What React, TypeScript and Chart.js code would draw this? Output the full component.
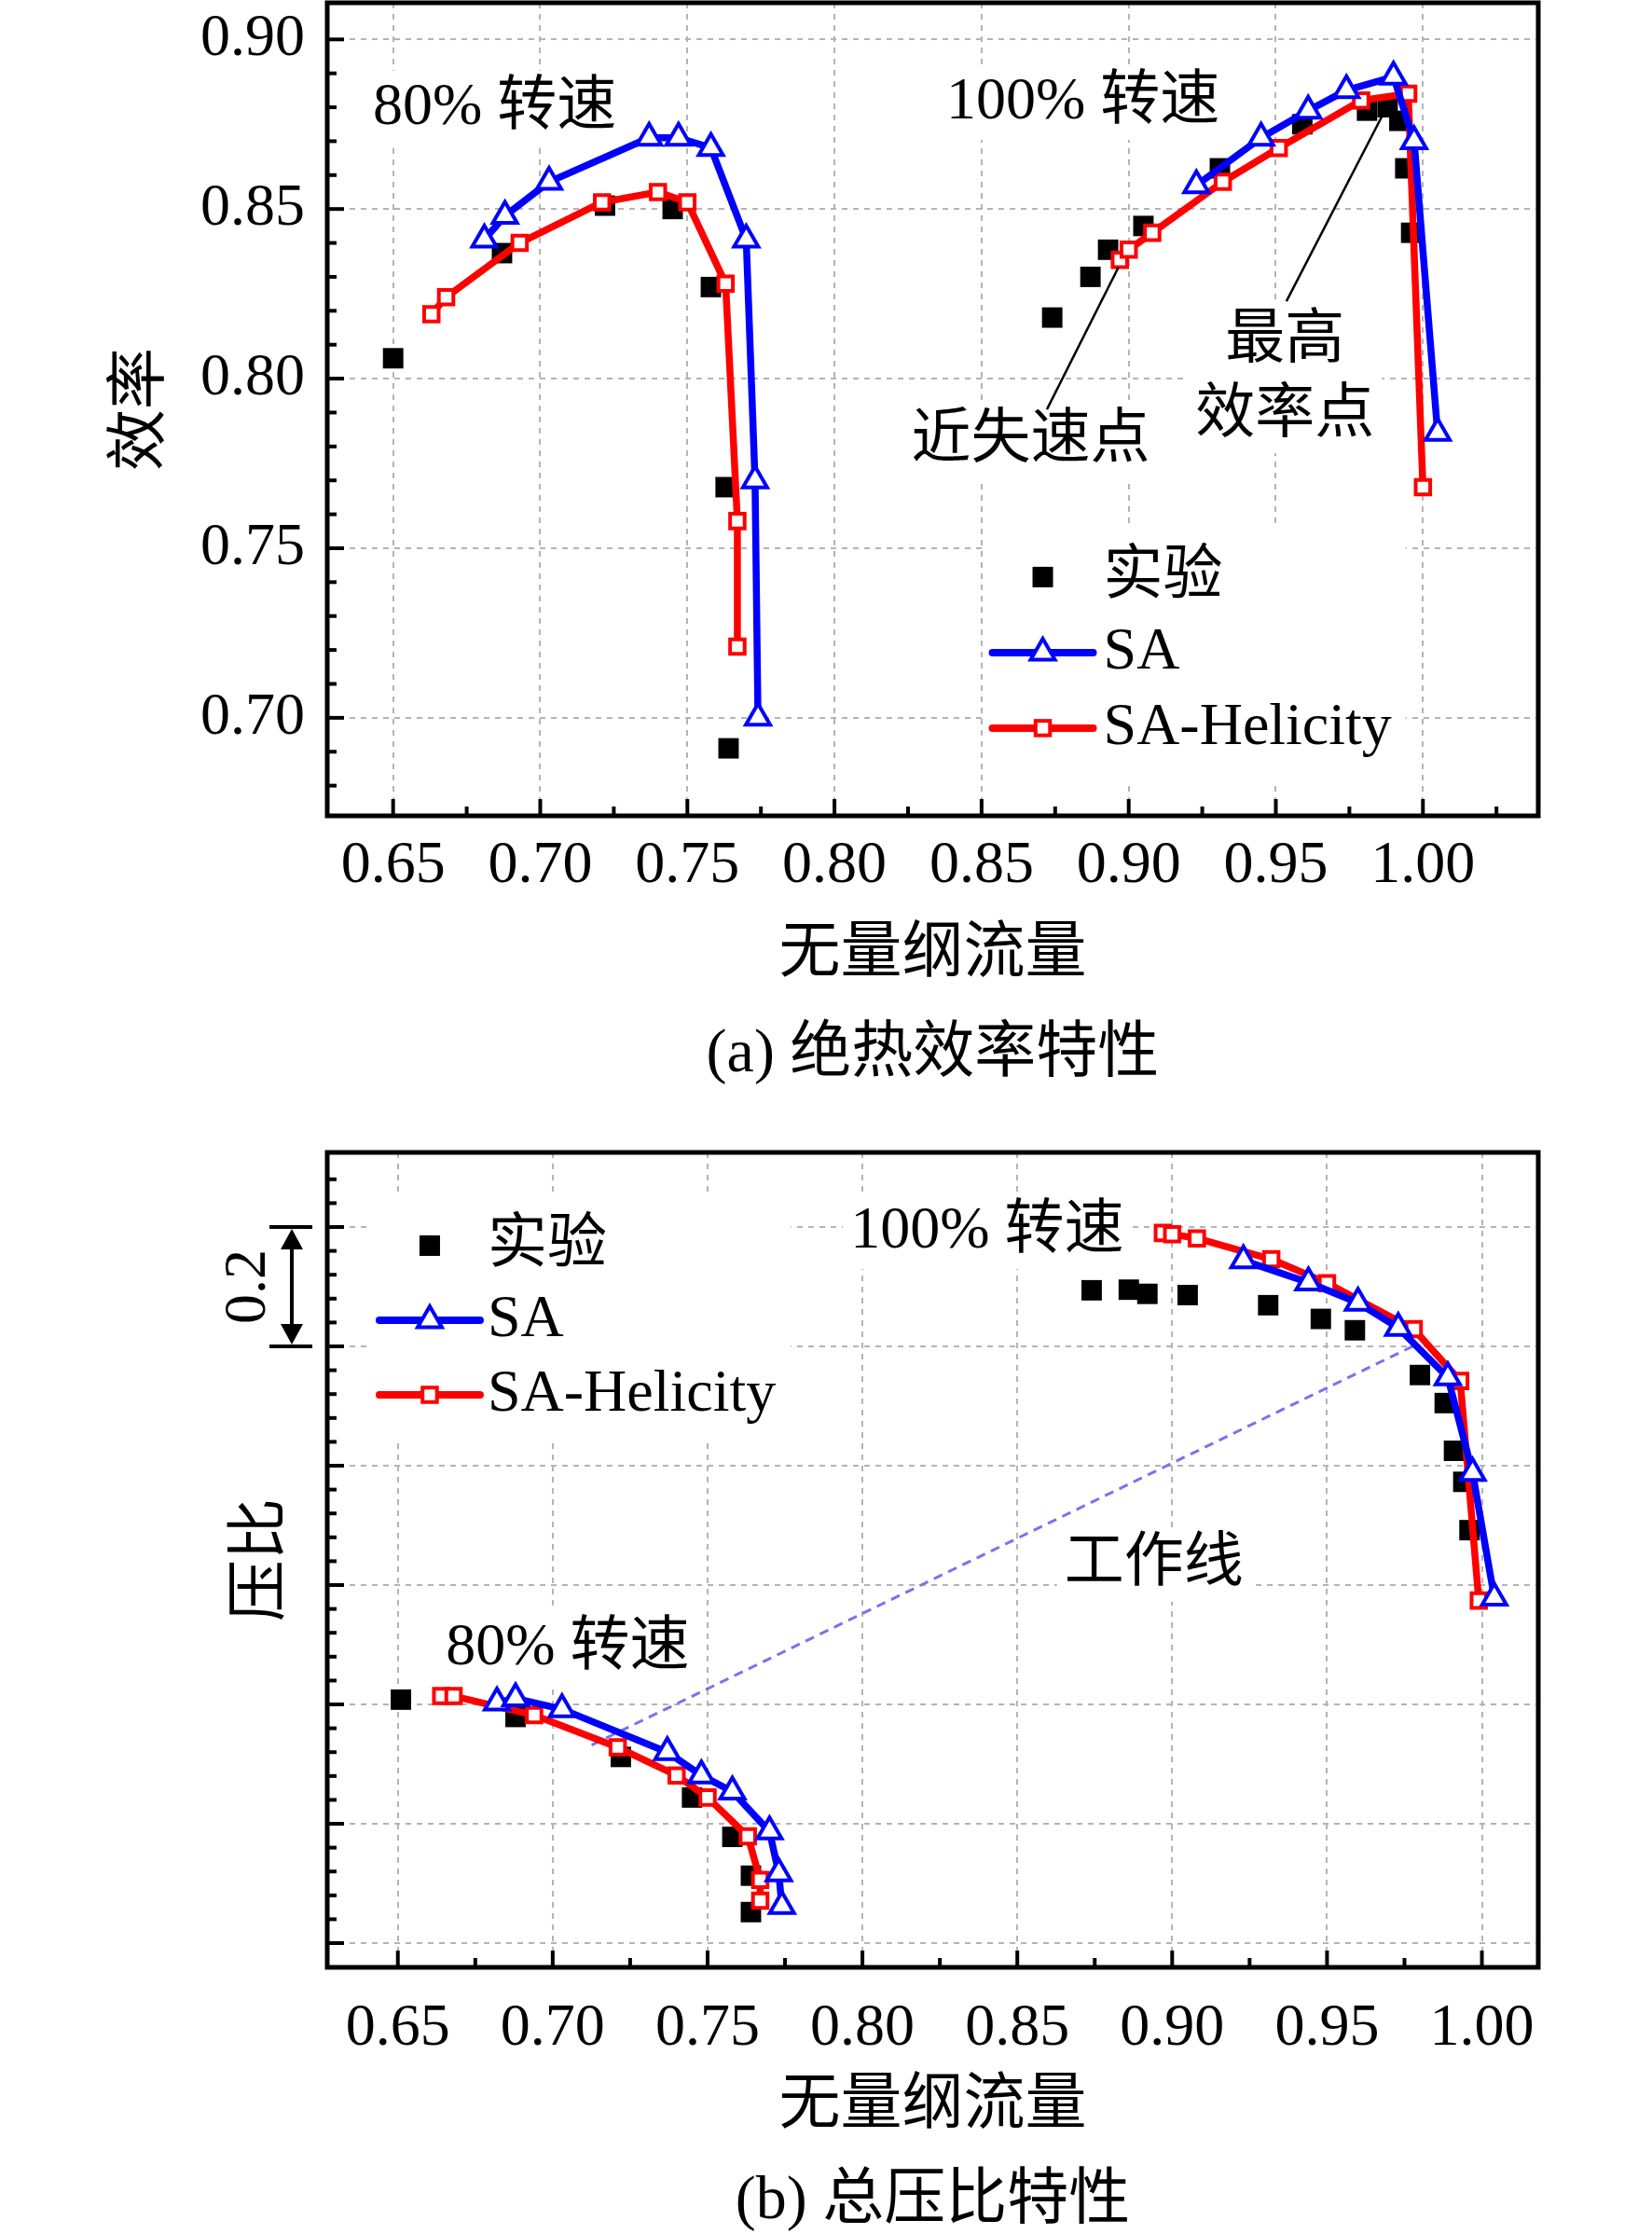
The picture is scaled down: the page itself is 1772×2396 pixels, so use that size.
import React, { useEffect, useRef } from 'react';
import { Chart, registerables } from 'chart.js';

Chart.register(...registerables);

const FONT = '"Liberation Serif", "Times New Roman", "Noto Sans CJK SC", serif';

// ---- (a) 绝热效率特性 : flow vs efficiency ----
const effExpFlow80 = [0.650, 0.687, 0.722, 0.745, 0.758, 0.763, 0.764];
const effExp80 = [0.806, 0.837, 0.851, 0.850, 0.827, 0.768, 0.691];
const effExpFlow100 = [0.874, 0.887, 0.893, 0.905, 0.931, 0.959, 0.981, 0.988, 0.992, 0.994, 0.996];
const effExp100 = [0.818, 0.830, 0.838, 0.845, 0.862, 0.875, 0.879, 0.880, 0.876, 0.862, 0.843];

const effSAFlow80 = [0.681, 0.688, 0.703, 0.737, 0.747, 0.758, 0.770, 0.773, 0.774];
const effSA80 = [0.841, 0.848, 0.858, 0.871, 0.871, 0.868, 0.841, 0.770, 0.700];
const effSAFlow100 = [0.923, 0.945, 0.961, 0.974, 0.990, 0.997, 1.005];
const effSA100 = [0.857, 0.871, 0.879, 0.885, 0.889, 0.870, 0.784];

const effSAHFlow80 = [0.663, 0.668, 0.693, 0.721, 0.740, 0.750, 0.763, 0.767, 0.767];
const effSAH80 = [0.819, 0.824, 0.840, 0.852, 0.855, 0.852, 0.828, 0.758, 0.721];
const effSAHFlow100 = [0.897, 0.900, 0.908, 0.932, 0.951, 0.979, 0.995, 1.000];
const effSAH100 = [0.835, 0.838, 0.843, 0.858, 0.868, 0.882, 0.884, 0.768];

// ---- (b) 总压比特性 : flow vs pressure ratio (axis unlabeled, 0.2 per grid) ----
const prExpFlow80 = [0.651, 0.688, 0.722, 0.745, 0.758, 0.764, 0.764];
const prExp80 = [1.608, 1.579, 1.512, 1.444, 1.378, 1.313, 1.252];
const prExpFlow100 = [0.874, 0.886, 0.892, 0.905, 0.931, 0.948, 0.959, 0.980, 0.988, 0.991, 0.994, 0.996];
const prExp100 = [2.294, 2.295, 2.288, 2.286, 2.269, 2.246, 2.227, 2.152, 2.105, 2.025, 1.973, 1.892];

const prSAFlow80 = [0.682, 0.688, 0.703, 0.737, 0.748, 0.758, 0.770, 0.773, 0.774];
const prSA80 = [1.603, 1.610, 1.592, 1.520, 1.481, 1.454, 1.387, 1.317, 1.262];
const prSAFlow100 = [0.923, 0.944, 0.960, 0.973, 0.989, 0.997, 1.004];
const prSA100 = [2.344, 2.307, 2.273, 2.231, 2.148, 1.988, 1.779];

const prSAHFlow80 = [0.664, 0.668, 0.694, 0.721, 0.740, 0.750, 0.763, 0.767, 0.767];
const prSAH80 = [1.614, 1.614, 1.582, 1.528, 1.481, 1.444, 1.379, 1.306, 1.271];
const prSAHFlow100 = [0.897, 0.900, 0.908, 0.932, 0.950, 0.978, 0.993, 0.999];
const prSAH100 = [2.390, 2.388, 2.381, 2.346, 2.306, 2.229, 2.142, 1.774];

// 工作线
const workFlow = [0.7126, 0.9788];
const workPr = [1.532, 2.203];

const legendLabels = ['实验', 'SA', 'SA-Helicity'];

const pts = (xs: number[], ys: number[]) => xs.map((x, i) => ({ x, y: ys[i] }));

const BLUE = '#0000FF';
const RED = '#FF0000';

const expStyle = {
  showLine: false,
  pointStyle: 'rect',
  pointRadius: 15.5,
  pointHoverRadius: 0,
  pointBackgroundColor: '#000',
  pointBorderColor: '#000',
  pointBorderWidth: 0,
  order: 5,
};
const saStyle = {
  showLine: true,
  borderColor: BLUE,
  borderWidth: 7.5,
  borderJoinStyle: 'round',
  pointStyle: 'triangle',
  pointRadius: 15,
  pointHoverRadius: 0,
  pointBackgroundColor: '#fff',
  pointBorderColor: BLUE,
  pointBorderWidth: 4,
  order: 1,
};
const sahStyle = {
  showLine: true,
  borderColor: RED,
  borderWidth: 7.5,
  borderJoinStyle: 'round',
  pointStyle: 'rect',
  pointRadius: 11,
  pointHoverRadius: 0,
  pointBackgroundColor: '#fff',
  pointBorderColor: RED,
  pointBorderWidth: 4,
  order: 2,
};

type Note = { lines: string[]; x: number; y: number; align: CanvasTextAlign };
type Leader = { x1: number; y1: number; x2: number; y2: number };
type Decor = {
  xMinor: number; xMajor: number; yMinor: number; yMajor: number;
  notes: Note[];
  leaders: Leader[];
  legendX: number; legendY: number; legendGap: number; legendTextDx: number;
  legendPad: [number, number, number, number];
  scaleBar?: { top: number; bottom: number; label: string };
};

const drawMarker = (ctx: CanvasRenderingContext2D, kind: string, x: number, y: number, color: string) => {
  ctx.save();
  if (kind === 'solid') {
    ctx.fillStyle = color;
    ctx.fillRect(x - 11, y - 11, 22, 22);
  } else if (kind === 'triangle') {
    const r = 15;
    ctx.beginPath();
    ctx.moveTo(x, y - r);
    ctx.lineTo(x + r * 0.866, y + r * 0.5);
    ctx.lineTo(x - r * 0.866, y + r * 0.5);
    ctx.closePath();
    ctx.fillStyle = '#fff';
    ctx.fill();
    ctx.lineWidth = 4;
    ctx.strokeStyle = color;
    ctx.stroke();
  } else {
    const s = 15.5;
    ctx.fillStyle = '#fff';
    ctx.fillRect(x - s / 2, y - s / 2, s, s);
    ctx.lineWidth = 4;
    ctx.strokeStyle = color;
    ctx.strokeRect(x - s / 2, y - s / 2, s, s);
  }
  ctx.restore();
};

const makeDecor = (d: Decor) => ({
  id: 'decor',
  beforeDatasetsDraw(chart: any) {
    const ctx: CanvasRenderingContext2D = chart.ctx;
    const xs = chart.scales.x;
    const ys = chart.scales.y;
    ctx.save();
    ctx.font = `64px ${FONT}`;
    ctx.textBaseline = 'middle';
    const lh = 80;

    // text notes on white boxes
    d.notes.forEach((n) => {
      const px = xs.getPixelForValue(n.x);
      const py = ys.getPixelForValue(n.y);
      const w = Math.max(...n.lines.map((l) => ctx.measureText(l).width));
      const x0 = n.align === 'center' ? px - w / 2 : px;
      ctx.fillStyle = '#fff';
      ctx.fillRect(x0 - 8, py - lh / 2, w + 16, lh * n.lines.length);
      ctx.fillStyle = '#000';
      ctx.textAlign = n.align;
      n.lines.forEach((l, i) => ctx.fillText(l, px, py + i * lh));
    });

    // legend
    const cx = xs.getPixelForValue(d.legendX);
    const cy = ys.getPixelForValue(d.legendY);
    const tx = cx + d.legendTextDx;
    const tw = Math.max(...legendLabels.map((l) => ctx.measureText(l).width));
    const [pl, pt, pr, pb] = d.legendPad;
    ctx.fillStyle = '#fff';
    ctx.fillRect(cx - 54 - pl, cy - pt, tx + tw + pr - (cx - 54 - pl), 2 * d.legendGap + pt + pb);
    const rows = [
      { kind: 'solid', color: '#000', line: false },
      { kind: 'triangle', color: BLUE, line: true },
      { kind: 'square', color: RED, line: true },
    ];
    rows.forEach((r, i) => {
      const y = cy + i * d.legendGap;
      if (r.line) {
        ctx.beginPath();
        ctx.moveTo(cx - 54, y);
        ctx.lineTo(cx + 54, y);
        ctx.lineWidth = 8;
        ctx.lineCap = 'round';
        ctx.strokeStyle = r.color;
        ctx.stroke();
      }
      drawMarker(ctx, r.kind, cx, y, r.color);
      ctx.fillStyle = '#000';
      ctx.textAlign = 'left';
      ctx.fillText(legendLabels[i], tx, y);
    });
    ctx.restore();
  },
  afterDatasetsDraw(chart: any) {
    const ctx: CanvasRenderingContext2D = chart.ctx;
    const xs = chart.scales.x;
    const ys = chart.scales.y;
    ctx.save();
    ctx.strokeStyle = '#000';
    ctx.lineWidth = 2.5;
    d.leaders.forEach((l) => {
      ctx.beginPath();
      ctx.moveTo(xs.getPixelForValue(l.x1), ys.getPixelForValue(l.y1));
      ctx.lineTo(xs.getPixelForValue(l.x2), ys.getPixelForValue(l.y2));
      ctx.stroke();
    });
    ctx.restore();
  },
  afterDraw(chart: any) {
    const ctx: CanvasRenderingContext2D = chart.ctx;
    const { left, right, top, bottom } = chart.chartArea;
    const xs = chart.scales.x;
    const ys = chart.scales.y;
    ctx.save();
    ctx.strokeStyle = '#000';
    ctx.fillStyle = '#000';

    const each = (min: number, max: number, step: number, major: number, fn: (p: number, isMajor: boolean) => void) => {
      for (let k = Math.ceil(min / step - 1e-9); k * step <= max + 1e-9; k++) {
        const v = k * step;
        const isMajor = Math.abs(v / major - Math.round(v / major)) < 1e-6;
        fn(v, isMajor);
      }
    };
    ctx.lineWidth = 4;
    each(xs.min, xs.max, d.xMinor, d.xMajor, (v, isMajor) => {
      const p = xs.getPixelForValue(v);
      if (p < left + 4 || p > right - 4) return;
      ctx.beginPath();
      ctx.moveTo(p, bottom);
      ctx.lineTo(p, bottom - (isMajor ? 18 : 10));
      ctx.stroke();
    });
    each(ys.min, ys.max, d.yMinor, d.yMajor, (v, isMajor) => {
      const p = ys.getPixelForValue(v);
      if (p < top + 4 || p > bottom - 4) return;
      ctx.beginPath();
      ctx.moveTo(left, p);
      ctx.lineTo(left + (isMajor ? 18 : 10), p);
      ctx.stroke();
    });

    // frame
    ctx.lineWidth = 5;
    ctx.strokeRect(left, top, right - left, bottom - top);

    // scale bar for the unlabeled pressure axis
    if (d.scaleBar) {
      const bx = left - 38;
      const y1 = ys.getPixelForValue(d.scaleBar.top);
      const y2 = ys.getPixelForValue(d.scaleBar.bottom);
      ctx.lineWidth = 4;
      ctx.beginPath();
      ctx.moveTo(bx - 24, y1); ctx.lineTo(bx + 22, y1);
      ctx.moveTo(bx - 24, y2); ctx.lineTo(bx + 22, y2);
      ctx.moveTo(bx, y1 + 18); ctx.lineTo(bx, y2 - 18);
      ctx.stroke();
      ctx.beginPath();
      ctx.moveTo(bx, y1 + 2); ctx.lineTo(bx + 12, y1 + 24); ctx.lineTo(bx - 12, y1 + 24); ctx.closePath();
      ctx.moveTo(bx, y2 - 2); ctx.lineTo(bx + 12, y2 - 24); ctx.lineTo(bx - 12, y2 - 24); ctx.closePath();
      ctx.fill();
      ctx.translate(left - 84, (y1 + y2) / 2);
      ctx.rotate(-Math.PI / 2);
      ctx.font = `64px ${FONT}`;
      ctx.textAlign = 'center';
      ctx.textBaseline = 'middle';
      ctx.fillText(d.scaleBar.label, 0, 0);
    }
    ctx.restore();
  },
});

const resetPadding = (s: any) => {
  s.paddingLeft = 0;
  s.paddingRight = 0;
  s.paddingTop = 0;
  s.paddingBottom = 0;
};

const gridStyle = { color: '#b4b4b4', lineWidth: 2, drawTicks: false };
const borderStyle = { display: false, dash: [6, 6] };
const tickFont = { family: FONT, size: 64 };
const titleFont = { family: FONT, size: 66 };

const flowAxis = (min: number, max: number, tickPad: number, titlePad: number, height: number) => ({
  type: 'linear',
  min,
  max,
  ticks: {
    stepSize: 0.05,
    includeBounds: false,
    autoSkip: false,
    maxRotation: 0,
    padding: tickPad,
    color: '#000',
    font: tickFont,
    callback: (v: any) => Number(v).toFixed(2),
  },
  grid: gridStyle,
  border: borderStyle,
  title: { display: true, text: '无量纲流量', color: '#000', font: titleFont, padding: { top: 0, bottom: titlePad } },
  afterFit: (s: any) => {
    s.height = height;
    resetPadding(s);
  },
});

const baseOptions = (padTop: number) => ({
  animation: false,
  responsive: false,
  events: [],
  layout: { padding: { left: 0, right: 122, top: padTop, bottom: 0 } },
  plugins: { legend: { display: false }, tooltip: { enabled: false } },
});

// the top canvas starts 16px above the page so its chart area can sit at y = 3
const TOP_SHIFT = 16;

const efficiencyConfig = () => ({
  type: 'scatter',
  data: {
    datasets: [
      { label: '实验 80%', data: pts(effExpFlow80, effExp80), ...expStyle },
      { label: '实验 100%', data: pts(effExpFlow100, effExp100), ...expStyle },
      { label: 'SA-Helicity 80%', data: pts(effSAHFlow80, effSAH80), ...sahStyle },
      { label: 'SA-Helicity 100%', data: pts(effSAHFlow100, effSAH100), ...sahStyle },
      { label: 'SA 80%', data: pts(effSAFlow80, effSA80), ...saStyle },
      { label: 'SA 100%', data: pts(effSAFlow100, effSA100), ...saStyle },
    ],
  },
  options: {
    ...baseOptions(3 + TOP_SHIFT),
    scales: {
      x: flowAxis(0.6276, 1.0392, 16, 116, 305),
      y: {
        type: 'linear',
        min: 0.6711,
        max: 0.9108,
        ticks: {
          stepSize: 0.05,
          includeBounds: false,
          padding: 24,
          color: '#000',
          font: tickFont,
          callback: (v: any) => Number(v).toFixed(2),
        },
        grid: gridStyle,
        border: borderStyle,
        title: { display: true, text: '效率', color: '#000', font: titleFont, padding: { top: 113, bottom: 0 } },
        afterFit: (s: any) => {
          s.width = 351;
          resetPadding(s);
        },
      },
    },
  },
  plugins: [
    makeDecor({
      xMinor: 0.025, xMajor: 0.05, yMinor: 0.01, yMajor: 0.05,
      notes: [
        { lines: ['80% 转速'], x: 0.6431, y: 0.8798, align: 'left' },
        { lines: ['100% 转速'], x: 0.838, y: 0.8814, align: 'left' },
        { lines: ['近失速点'], x: 0.8667, y: 0.7816, align: 'center' },
        { lines: ['最高', '效率点'], x: 0.9531, y: 0.811, align: 'center' },
      ],
      leaders: [
        { x1: 0.8722, y1: 0.7909, x2: 0.8965, y2: 0.8328 },
        { x1: 0.9536, y1: 0.8228, x2: 0.9869, y2: 0.8787 },
      ],
      legendX: 0.8708, legendY: 0.7415, legendGap: 81, legendTextDx: 65,
      legendPad: [10, 52, 15, 59],
    }),
  ],
});

const pressureConfig = () => ({
  type: 'scatter',
  data: {
    datasets: [
      {
        label: '工作线',
        data: pts(workFlow, workPr),
        showLine: true,
        borderColor: '#7f6ff0',
        borderWidth: 3,
        borderDash: [10, 7],
        pointRadius: 0,
        pointHoverRadius: 0,
        order: 9,
      },
      { label: '实验 80%', data: pts(prExpFlow80, prExp80), ...expStyle },
      { label: '实验 100%', data: pts(prExpFlow100, prExp100), ...expStyle },
      { label: 'SA-Helicity 80%', data: pts(prSAHFlow80, prSAH80), ...sahStyle },
      { label: 'SA-Helicity 100%', data: pts(prSAHFlow100, prSAH100), ...sahStyle },
      { label: 'SA 80%', data: pts(prSAFlow80, prSA80), ...saStyle },
      { label: 'SA 100%', data: pts(prSAFlow100, prSA100), ...saStyle },
    ],
  },
  options: {
    ...baseOptions(56),
    scales: {
      x: flowAxis(0.6272, 1.0182, 28, 97, 286),
      y: {
        type: 'linear',
        min: 1.1594,
        max: 2.525,
        ticks: { stepSize: 0.2, includeBounds: false, display: false },
        grid: gridStyle,
        border: borderStyle,
        title: { display: true, text: '压比', color: '#000', font: titleFont, padding: { top: 242, bottom: 0 } },
        afterFit: (s: any) => {
          s.width = 351;
          resetPadding(s);
        },
      },
    },
  },
  plugins: [
    makeDecor({
      xMinor: 0.025, xMajor: 0.05, yMinor: 0.04, yMajor: 0.2,
      notes: [
        { lines: ['100% 转速'], x: 0.7961, y: 2.3922, align: 'left' },
        { lines: ['80% 转速'], x: 0.6655, y: 1.6938, align: 'left' },
        { lines: ['工作线'], x: 0.8941, y: 1.8344, align: 'center' },
      ],
      leaders: [],
      legendX: 0.6603, legendY: 2.3688, legendGap: 80, legendTextDx: 62,
      legendPad: [12, 55, 16, 52],
      scaleBar: { top: 2.4, bottom: 2.2, label: '0.2' },
    }),
  ],
});

function PanelChart({ top, height, build }: { top: number; height: number; build: () => any }) {
  const ref = useRef<HTMLCanvasElement | null>(null);

  useEffect(() => {
    if (!ref.current) return;
    const chart = new Chart(ref.current, build());
    return () => {
      chart.destroy();
    };
  }, [build]);

  return (
    <canvas
      ref={ref}
      width={1772}
      height={height}
      style={{ position: 'absolute', left: 0, top, width: 1772, height, display: 'block' }}
    />
  );
}

const captionStyle = (top: number): React.CSSProperties => ({
  position: 'absolute',
  left: 351,
  width: 1299,
  top,
  textAlign: 'center',
  fontFamily: FONT,
  fontSize: 66,
  lineHeight: '80px',
  color: '#000',
  whiteSpace: 'nowrap',
});

export default function App() {
  return (
    <div style={{ position: 'absolute', left: 0, top: 0, width: 1772, height: 2396, background: '#fff', overflow: 'hidden' }}>
      <PanelChart top={-TOP_SHIFT} height={1180 + TOP_SHIFT} build={efficiencyConfig} />
      <PanelChart top={1180} height={1216} build={pressureConfig} />
      <div style={captionStyle(1087)}>(a) 绝热效率特性</div>
      <div style={captionStyle(2317)}>(b) 总压比特性</div>
    </div>
  );
}
